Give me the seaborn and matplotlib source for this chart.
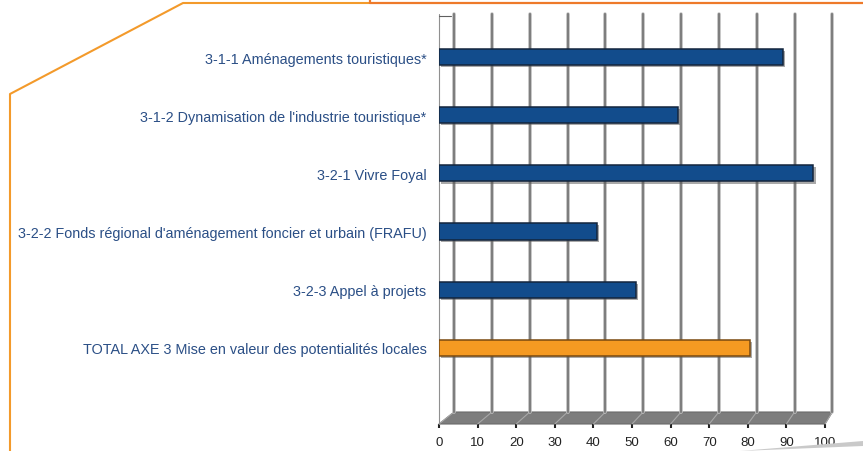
import numpy as np
import pandas as pd
import matplotlib
matplotlib.use('Agg')
import matplotlib.pyplot as plt
import matplotlib.transforms as mtransforms
import matplotlib.patheffects as pe
from matplotlib.colors import to_hex
from matplotlib.lines import Line2D
from matplotlib.patches import Polygon, Rectangle
import seaborn as sns

LABELS = [
    '3-1-1 Aménagements touristiques*',
    "3-1-2 Dynamisation de l'industrie touristique*",
    '3-2-1 Vivre Foyal',
    "3-2-2 Fonds régional d'aménagement foncier et urbain (FRAFU)",
    '3-2-3 Appel à projets',
    'TOTAL AXE 3 Mise en valeur des potentialités locales',
]
VALUES = [89, 62, 97, 41, 51, 80.5]
KIND   = ['mesure', 'mesure', 'mesure', 'mesure', 'mesure', 'total']
TICKS  = list(range(0, 101, 10))

BLUE   = '#124C8C'
ORANGE = '#F59A22'
LABEL_COLOR = '#2B4F86'

df = pd.DataFrame({'label': LABELS, 'value': VALUES, 'kind': KIND})

sns.set_theme(style='white')
plt.rcParams['font.family'] = ['Liberation Sans', 'DejaVu Sans']

fig = plt.figure(figsize=(8.63, 4.52), dpi=100)
W, H = 863, 452
ax = fig.add_axes([439 / W, 1 - 425 / H, (825 - 439) / W, (425 - 15) / H])


def back(v):
    # back wall position of a front x value (fake 3d depth)
    return 3.9 + 0.98 * v


floor_h = 12 / 410
blend = mtransforms.blended_transform_factory(ax.transData, ax.transAxes)

# floor + back wall grid
floor = Polygon([(0, 0), (TICKS[-1], 0), (back(TICKS[-1]), floor_h), (back(0), floor_h)],
                closed=True, transform=blend, facecolor='#7d7d7d', edgecolor='#6a6a6a',
                lw=0.8, zorder=0.5, clip_on=False)
ax.add_artist(floor)
for t in TICKS:
    ax.add_line(Line2D([t, back(t)], [0, floor_h], transform=blend, color='#a8a8a8',
                       lw=0.8, zorder=0.6, clip_on=False))
    ax.add_line(Line2D([back(t), back(t)], [floor_h, 1], transform=blend, color='#c8c8c8',
                       lw=2.6, zorder=0.7, clip_on=False))
    ax.add_line(Line2D([back(t), back(t)], [floor_h, 1], transform=blend, color='#7e7e7e',
                       lw=1.6, zorder=0.8, clip_on=False))
ax.add_line(Line2D([0, 0], [0, 1], transform=blend, color='#909090', lw=0.8,
                   zorder=0.8, clip_on=False))
ax.add_line(Line2D([0, 3], [0.995, 0.995], transform=blend, color='#606060', lw=0.8,
                   zorder=0.8, clip_on=False))

sns.barplot(data=df, x='value', y='label', hue='kind', orient='h', dodge=False,
            palette={'mesure': BLUE, 'total': ORANGE}, width=0.28, legend=False,
            edgecolor='#13253d', linewidth=1.1, saturation=1, ax=ax, zorder=3)

shadow = [pe.SimplePatchShadow(offset=(1.5, -1.5), shadow_rgbFace='#555555', alpha=0.5),
          pe.Normal()]
for p in ax.patches:
    if not isinstance(p, Rectangle):
        continue
    if to_hex(p.get_facecolor()).lower() == ORANGE.lower():
        p.set_edgecolor('#7a4a10')
    p.set_path_effects(shadow)

ax.set_xlim(0, 100)
ax.set_ylim(6.31, -0.74)
ax.set_xticks(TICKS)
ax.set_xticklabels([str(t) for t in TICKS])
ax.set_xlabel('')
ax.set_ylabel('')
for s in ax.spines.values():
    s.set_visible(False)
ax.tick_params(axis='x', bottom=True, length=3, width=1.5, color='#222222',
               labelsize=9.5, labelcolor='#222222', pad=6)
ax.tick_params(axis='y', length=0, labelsize=10.4, labelcolor=LABEL_COLOR, pad=9)
ax.grid(False)
ax.set_facecolor('none')

# orange page decoration
fig.add_artist(Line2D([10 / W, 10 / W, 183 / W, 370 / W],
                      [0, 1 - 95 / H, 1 - 4 / H, 1 - 4 / H],
                      transform=fig.transFigure, color='#F39A2B', lw=1.5))
fig.add_artist(Line2D([370 / W, 370 / W, 1],
                      [1, 1 - 4 / H, 1 - 4 / H],
                      transform=fig.transFigure, color='#EE7A2A', lw=1.6))
fig.add_artist(Polygon([(740 / W, 0), (1, 5 / H), (1, 10 / H)], closed=True,
                       transform=fig.transFigure, facecolor='#c9c9c9', edgecolor='none'))

fig.savefig('out.png', dpi=100)
